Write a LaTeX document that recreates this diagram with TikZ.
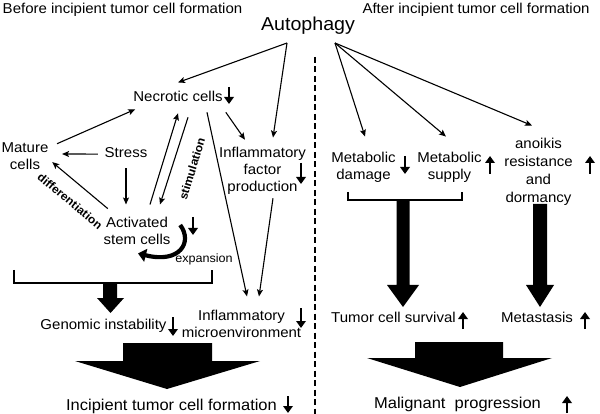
\documentclass[tikz,border=0pt]{standalone}
\usepackage{fontspec}
\setmainfont[FakeStretch=1.05]{Liberation Sans}
\usetikzlibrary{arrows.meta}

\tikzset{
  txt/.style={font=\fontsize{14.3}{17}\selectfont, inner sep=2pt},
  ml/.style={txt, align=center},
  big/.style={font=\fontsize{15.7}{19}\selectfont, inner sep=2pt},
  lbl/.style={font=\fontsize{11.5}{13}\selectfont\bfseries, inner sep=1pt},
  conn/.style={line width=1.1pt, -{Stealth[length=7pt,width=6pt,inset=1.5pt]}},
  ind/.style={line width=2.4pt, -{Triangle[length=7pt,width=9.5pt]}},
  blk/.style={fill=black, draw=none},
  brk/.style={line width=1.8pt}
}

\begin{document}
\begin{tikzpicture}[x=1pt, y=-1pt]
	\useasboundingbox (0,0) rectangle (600,414);
	
	% headings and the divider
	\node[txt, anchor=base] (before) at (122.5,13.5) {Before incipient tumor cell formation};
	\node[txt, anchor=base] (after) at (476,13.5) {After incipient tumor cell formation};
	\node[anchor=base, inner sep=2pt, font=\fontsize{18.7}{22}\selectfont] (auto) at (308,31) {Autophagy};
	\coordinate (aL) at (287,43);
	\coordinate (aR) at (335,43);
	\draw[line width=1.8pt, dash pattern=on 6pt off 3.5pt] (315,57) -- (315,414);
	
	% left half
	\node[txt, anchor=base] (necro) at (178,102) {Necrotic cells};
	\node[ml] (mature) at (25,156.4) {Mature\\cells};
	\node[txt, anchor=base] (stress) at (126,158) {Stress};
	\node[ml] (act) at (137,230.4) {Activated\\stem cells};
	\node[ml] (infl) at (262.5,170.4) {Inflammatory\\factor\\production};
	\node[ml] (micro) at (241.5,323.4) {Inflammatory\\microenvironment};
	\node[txt, anchor=base] (genom) at (103.5,330) {Genomic instability};
	\node[big, anchor=base] (incip) at (171.5,410) {Incipient tumor cell formation};
	
	\node[lbl, rotate=-40] (diff) at (70,201) {differentiation};
	\node[lbl, rotate=73] (stim) at (192,169) {stimulation};
	\node[font=\fontsize{12}{14}\selectfont, anchor=base, inner sep=1pt] (expan) at (204,263) {expansion};
	
	\draw[conn] (aL) -- ([shift={(0,-7)}]necro.north);
	\draw[conn] (aL) -- ([shift={(10.5,-7)}]infl.north);
	\draw[conn] ([shift={(6.5,3)}]mature.north east) -- ([shift={(4,5)}]necro.south west);
	\draw[conn] ([shift={(-4.7,1)}]stress.west) -- ([shift={(11.5,-2.4)}]mature.east);
	\draw[conn] ([shift={(0,8)}]stress.south) -- ([shift={(-11,-10)}]act.north);
	\draw[conn] ([shift={(6.4,-5.8)}]act.north west) -- ([shift={(1.6,-10)}]mature.south east);
	\draw[conn] ([shift={(13,-10)}]act.north) -- ([shift={(0,9)}]necro.south);
	\draw[conn] ([shift={(10,13)}]necro.south) -- ([shift={(23,-10)}]act.north);
	\draw[conn] ([shift={(29,8)}]necro.south) -- ([shift={(5.5,-11)}]micro.north);
	\draw[conn] ([shift={(1,8)}]necro.south east) -- ([shift={(-17.5,-4.8)}]infl.north);
	\draw[conn] ([shift={(10.5,2)}]infl.south) -- ([shift={(17.5,-11)}]micro.north);
	\draw[line width=4.2pt, -{Triangle[length=8pt,width=13pt]}] ([shift={(7.6,-5.4)}]act.east)
		.. controls (193,242) and (180,264) .. ([shift={(1,7)}]act.south);
	
	\draw[brk] (14,270) -- (14,283) -- (212,283) -- (212,270);
	\fill[blk] (103,283) -- (117,283) -- (117,298) -- (124,298) -- (110.5,313) -- (97,298) -- (103,298) -- cycle;
	\fill[blk] (123,343) -- (212,343) -- (212,361) -- (260,361) -- (167,389) -- (75,361) -- (123,361) -- cycle;
	
	\draw[ind] (229,87) -- (229,104);
	\draw[ind] (301,163) -- (301,184);
	\draw[ind] (193,217) -- (193,235);
	\draw[ind] (173,317) -- (173,336);
	\draw[ind] (301,308) -- (301,328);
	\draw[ind] (288,396) -- (288,413);
	
	% right half
	\node[ml] (metd) at (363.5,166.9) {Metabolic\\damage};
	\node[ml] (mets) at (449.5,166.9) {Metabolic\\supply};
	\node[txt, align=center, font=\fontsize{14.3}{18}\selectfont] (anoi) at (538.5,171.4) {anoikis\\resistance\\and\\dormancy};
	\node[txt, anchor=base] (surv) at (393.5,323) {Tumor cell survival};
	\node[txt, anchor=base] (meta) at (537,323) {Metastasis};
	\node[big, anchor=base] (malig) at (457.5,408) {Malignant\ \ progression};
	
	\draw[conn] (aR) -- ([shift={(1.5,-13)}]metd.north);
	\draw[conn] (aR) -- ([shift={(-3.5,-13)}]mets.north);
	\draw[conn] (aR) -- ([shift={(-6.5,-10)}]anoi.north);
	
	\draw[brk] (348,192) -- (348,200) -- (462,200) -- (462,192);
	\fill[blk] (396.5,200) -- (409.5,200) -- (409.5,285) -- (419,285) -- (403,307) -- (387,285) -- (396.5,285) -- cycle;
	\fill[blk] (533,204) -- (547,204) -- (547,285) -- (554,285) -- (540,307) -- (526,285) -- (533,285) -- cycle;
	\fill[blk] (415,342) -- (503,342) -- (503,358) -- (552,358) -- (460,387) -- (367,358) -- (415,358) -- cycle;
	
	\draw[ind] (405,156) -- (405,174);
	\draw[ind] (490,174) -- (490,156);
	\draw[ind] (590,174) -- (590,156);
	\draw[ind] (463,329) -- (463,312);
	\draw[ind] (585,329) -- (585,312);
	\draw[ind] (567,413) -- (567,396);
\end{tikzpicture}
\end{document}
